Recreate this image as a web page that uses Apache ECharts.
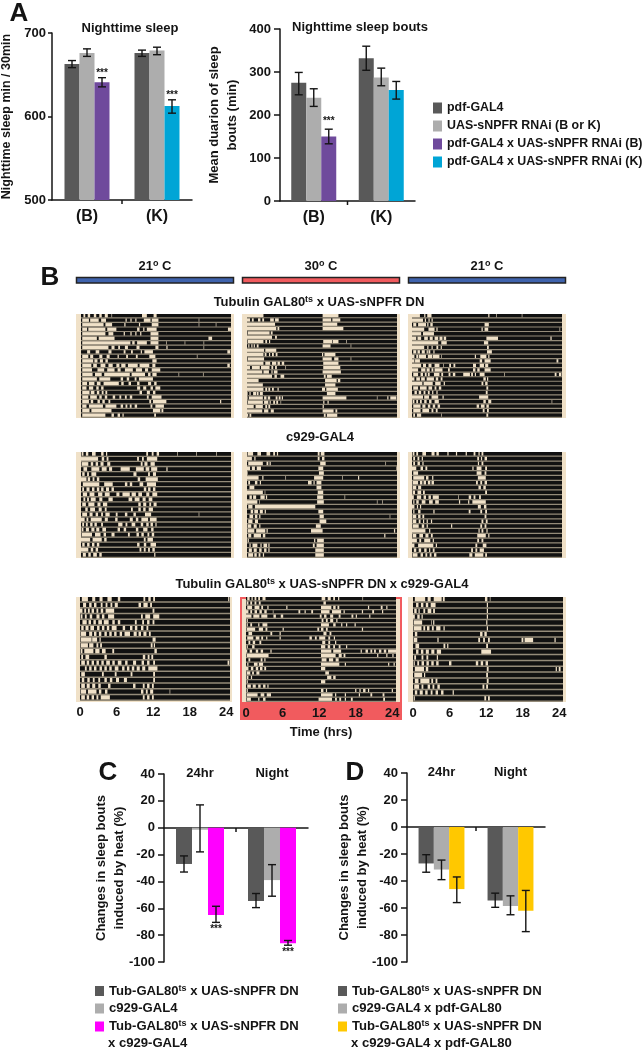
<!DOCTYPE html>
<html><head><meta charset="utf-8">
<style>html,body{margin:0;padding:0;background:#fff}#c{width:643px;height:1050px}</style>
<script src="https://cdn.jsdelivr.net/npm/echarts@6/dist/echarts.min.js"></script>
</head><body><div id="c"></div>
<script>
// ---------- Panel A data ----------
const groupsA = ['(B)','(K)'];
const namesA = ['pdf-GAL4','UAS-sNPFR RNAi (B or K)','pdf-GAL4 x UAS-sNPFR RNAi (B)','pdf-GAL4 x UAS-sNPFR RNAi (K)'];
const sleepDark = [663,676], sleepLight = [676,679], sleepPurple = [641,null], sleepBlue = [null,612.5];
const sleepErr = [[0,0,658.5,667],[0,1,672,681],[0,2,635.5,646.5],[1,0,672,679.5],[1,1,674,683],[1,2,604,620]];
const sleepSig = [[0,2,653],[1,2,627]];
const boutDark = [275,332], boutLight = [240,287], boutPurple = [150,null], boutBlue = [null,258];
const boutErr = [[0,0,247,299],[0,1,220,261],[0,2,133,167],[1,0,304,360],[1,1,268,309],[1,2,237,278]];
const boutSig = [[0,2,188]];
// ---------- Panels C, D data ----------
const groupsC = ['24hr','Night'];
const namesC = ['Tub-GAL80ts x UAS-sNPFR DN','c929-GAL4','Tub-GAL80ts x UAS-sNPFR DN x c929-GAL4'];
const namesD = ['Tub-GAL80ts x UAS-sNPFR DN','c929-GAL4 x pdf-GAL80','Tub-GAL80ts x UAS-sNPFR DN x c929-GAL4 x pdf-GAL80'];
const cDark = [-27,-54.5], cLight = [-1.5,-39], cMagenta = [-65,-86];
const cErr = [[0,0,-33,-21],[0,1,-18,17],[0,2,-70.5,-58.5],[1,0,-59.5,-49],[1,1,-51,-27.5],[1,2,-87.5,-84]];
const cSig = [[0,2,-75],[1,2,-92]];
const dDark = [-27,-54.5], dLight = [-31.5,-58.5], dYellow = [-46,-62];
const dErr = [[0,0,-33.5,-20.5],[0,1,-39,-24.5],[0,2,-56,-37],[1,0,-59.5,-49],[1,1,-65,-51],[1,2,-77.5,-47]];
// ---------- Panel B actograms: each row lists wake spans as start,end,start,end… in hours ----------
const hoursTicks = [0,6,12,18,24];
const tub21a = [
[.4,.7,1.1,1.5,2.1,2.5,3,3.4,3.9,4.4,5,5.1,10,10.8,11.9,12.4],
[.2,1.3,1.5,2.9,3.3,4.1,7.3,7.5,8.1,8.3,8.9,9.1,10.3,11.4,11.6,12.7,19.3,19.4],
[.2,3.7,4,5.1,7.1,7.3,9.5,9.7,11.6,12.7,19.3,19.4,22.1,22.2],
[.2,1,1.2,4,4.3,5.8,9.2,9.6,10.2,10.4,10.8,12.4,24.1,24.6],
[.2,4,4.5,5.3,7,7.2,8.1,8.3,8.9,9.1,9.7,9.9,11.4,12.7],
[.2,2.6,2.9,5.5,11.4,12.7,20.9,21.5],
[.2,8.1,8.4,8.8,9.2,10.8,11.4,12.7,14,14.1,17,17.1,20.1,20.2],
[.2,4.5,5,5.5,6.1,6.4,7.2,7.7,9.1,9.6,12.2,12.7,14,14.2,20.1,20.2],
[1,1.5,2.4,3,4.5,5,7,7.3,8.2,8.5,9.8,10,10.4,11.8,24,24.5],
[.2,1.2,1.5,2,3,3.5,4.2,4.7,6,6.2,7.4,7.7,9,9.3,11.2,12.2,19,19.1],
[.2,2,2.2,2.7,3.1,3.6,4,4.4,11.7,12.4],
[.2,1.7,2,2.6,3.2,4,4.5,5.2,5.8,6.3,6.6,7.3,7.7,9.3,9.6,11.2,11.7,12.2,24,24.4],
[.2,1.8,2.7,3.8,4.3,5.5,6,6.5,7.2,8.5,9,10,10.5,11,11.6,13],
[.2,1.9,2.3,3.4,3.8,8,8.3,10.5,11,11.4,11.7,12.4,16,16.1,20,20.1],
[.2,2.6,3,4.8,6.5,6.9,7.5,7.9,8.8,9.1,9.5,11.8],
[.2,1,1.3,2.2,2.6,3.2,3.7,6.2,6.6,7,7.8,8.2,9.2,9.6,11,11.5,12,12.4],
[.2,.9,1.3,2,2.5,2.9,3.3,3.7,9.2,9.7,10.2,10.7,11.4,11.8,12.2,13],
[.2,1.4,1.6,2.2,2.6,3,3.4,3.7,4,4.3,9.6,10,10.8,11.3,11.8,12.2],
[.2,1.2,1.5,2.6,3,3.4,3.9,4.3,5.2,5.6,6.3,6.6,7.2,7.5,8,8.4,10.8,11.1,11.6,13.2],
[.2,1.3,1.6,2,2.7,3.1,3.5,3.9,4.5,4.8,11.2,11.5,11.8,14,22.8,23],
[.2,.9,1.3,3.6,4,5.8,6.5,6.9,7.3,7.6,8,8.3,8.8,9.2,11.4,11.7,12.2,13.6],
[.2,1.4,1.7,5,11.8,13,13.2,13.5],
[.2,4,5,5.4,6,6.4,6.8,7,12,12.3]];
const tub30 = [
[0,2.7,12.4,15],
[0,.5,.8,1.1,1.8,2.2,2.5,2.8,3.8,4.4,4.6,5.2,12.4,13.8,14,15.3],
[0,4.6,12.4,14.8],
[0,4.8,5,5.3,12.4,15.8],
[.1,3.7,3.9,4.2],
[0,4.1,4.6,4.9],
[.1,2.7,3,3.3,3.6,3.8,12.5,14,14.1,15,16.3,16.4],
[.2,.4,.7,.9,1.1,1.3,1.6,1.9,12.4,13.7,17,17.1],
[0,2.8,3,4.8],
[0,2.7,2.9,3.2,3.6,3.8,4.1,4.4,4.7,5,12.3,12.5,12.7,14.5],
[.1,2.8,12.4,13.9,14.3,15,17,17.1],
[0,2.7,3,3.8,4.1,4.8,5,5.4,5.7,6.1,12.5,15],
[0,.5,.8,2.1,2.3,3.7,4,4.3,4.6,4.9,6.3,6.4,12.5,15.3],
[0,2.5,2.7,3.6,4,4.2,4.4,5,12.4,15.4],
[0,4.1,4.5,4.9,5.5,6.1,12.6,12.9,13.1,13.9],
[0,1.9,12.8,14.7,14.9,15.3],
[0,2.6,12.8,14.5],
[0,2.7,3,3.3,3.5,3.8,4.1,4.4,5,5.2,12.3,12.8,13,14.9],
[0,.1,.4,.6,1,1.5,1.6,1.9,2.1,2.6,13.1,14.5],
[0,.1,.3,2.6,2.8,3.2,3.4,3.8,4.7,5,5.2,5.5,5.7,5.9,12.4,16.3,21.3,21.4,23,23.2,23.5,24.5],
[.1,2.6,2.8,3.5,3.7,3.9,4.3,4.6,4.8,5.1,5.5,5.6,12.5,12.7,13.2,13.4],
[0,1.1,1.4,2.6,3,3.3,3.5,3.8,12.4,12.6],
[0,2.5,2.8,3.5,3.9,4.4,12.4,14.2,14.5,14.8],
[0,.2,.4,.7,12.6,12.9,13.1,14.8]];
const tub21b = [
[0,1.3,2,2.2,2.5,3.2,12.5,12.7,13.8,13.9,18,18.1],
[0,1.8,2.1,2.3,2.7,2.9,3.2,3.4],
[.2,.7,1,2.3,2.5,2.7,3,3.4,11.9,12.6],
[0,2,2.7,3.7,4,4.2,11.4,11.6,11.9,12.5,24.2,24.3],
[0,1.5,1.8,3.6],
[0,.7,.9,1.5,2,2.6,2.9,3.4,3.7,4.3,4.5,5,5.2,5.6,12.2,14.1,22.7,22.9],
[0,4.3,4.8,5.7,11.8,12.5],
[0,2,2.5,2.7,3.2,3.4,4,4.3,4.7,4.9,12.3,12.6],
[.2,.7,.9,1.3,1.6,2.1,2.4,2.6,2.7,3,3.5,3.7,12.3,13.1],
[0,.4,.7,1,1.1,2.3,2.6,3.3,3.4,4.5,4.8,4.9,10.3,10.5,11.2,12.2,12.5,12.7],
[0,.4,.5,1.3,11.1,11.5,11.9,12.9,23.7,24],
[0,1.5,1.8,2.3,2.7,3.2,3.7,4.5,5.1,5.2,6.1,6.4,6.8,7.1,10,10.5,11.1,11.8,12,12.5],
[0,1,1.5,2.2,2.4,2.9,3.2,3.5,3.7,5,5.9,6.2,10,10.4,10.7,11.1,11.9,12.9],
[.2,1,1.4,1.8,2.1,2.4,2.6,2.9,3.6,4.5,4.8,5.1,6,6.3,6.7,7.1,8.4,9.5,9.7,10,10.3,10.5,11.1,11.9,15.1,15.2,23.4,23.7,24.1,24.5],
[0,.4,.7,1.3,1.5,2.1,2.4,3.6,3.9,4.3,4.7,5,11.7,12.1,12.3,12.5],
[0,1.7,1.9,3.4,3.8,4.7,5.2,5.4,11.4,11.7,12,12.4],
[.2,1,1.3,2.4,2.7,3.3,3.7,4,4.4,4.8,12.2,12.5],
[.4,.8,1.1,1.5,1.9,2.2,2.6,2.9,3.3,3.5,4,4.2,12.1,12.4],
[0,1.8,2,2.8,3.2,4.3,5,5.2,11,12.5],
[.1,.4,.7,1,1.3,1.6,2,2.4,2.8,3.2,3.7,4.4,11.7,12.1,12.5,13,22.9,23],
[.2,1.4,1.7,2.2,2.6,3,3.4,3.8,4.2,4.6,10.6,11,11.3,11.9,12.2,12.6],
[.2,1.4,1.7,2.8,3.2,3.5,3.9,4.2,11.6,11.9,12.3,12.6],
[.2,.5,.8,1.5,4.8,4.9,12.2,12.5]];
const c929a = [
[.1,.4,.8,1.2,1.8,2.4,3.3,3.7,4.1,4.3,10.7,11,11.6,11.9,12.4,12.8,15.8,15.9,18.9,19,22.2,22.3],
[0,2.8,3.4,3.8,4.2,4.5,9.2,9.5,10,10.3,10.8,12.5],
[.1,1.2,1.6,2,2.4,2.8,3.2,3.7,4.3,4.8,9.8,10.1,10.4,10.9,11.4,12.1],
[.4,1,1.7,3,3.4,4.2,4.6,5.1,6.5,8,9,10.3,10.6,11.2,11.5,12.5,14,14.2],
[.2,.6,1,1.3,1.7,2.5,8.6,9.1,11,11.3,11.8,12.3],
[0,.9,1.1,1.5,1.9,2.2,2.6,3,9.3,9.7,10.6,12.6],
[.3,3,3.8,5.2,7.2,7.6,8,8.4,9.6,10.2,10.8,12.3],
[.2,.5,.9,1.4,1.8,2.2,2.6,3,3.3,3.7,4.1,4.6,5,5.4,10.3,10.7,11,11.4,11.8,12.2],
[.3,1,1.4,2.2,2.8,3.5,3.9,4.7,5.8,6.3,6.8,8,8.3,9,9.4,10,10.7,11.2,11.7,12.5],
[.4,.7,1,1.3,1.6,2.4,3,3.5,4.5,5.2,7.8,8.4,8.8,9.6,10.1,10.6,11.1,11.7],
[.2,.8,1.2,2.2,2.7,3.2,3.6,4.3,9.4,9.8,10.2,10.7,11.2,11.5,11.9,12.4],
[.7,1.1,1.5,2.3,2.9,3.4,3.9,4.2,8.2,8.5,9.4,9.8,10.2,10.6,11.1,11.8],
[.2,1,1.4,1.9,2.4,2.8,3.3,3.6,4,4.7,5.7,6,7.2,7.6,8.6,9,10.5,11.5,19.3,19.4],
[0,.6,.9,1.2,1.6,3.4,3.9,4.4,5.6,6,8,8.5,9,9.4,9.9,11,11.3,12.4],
[.2,.5,.8,1.1,1.5,1.9,2.2,2.6,3.3,3.6,6.1,6.8,7.3,7.6,8.3,8.9,9.8,10.2,10.7,11.1,11.4,11.8,12.2,12.4],
[.1,.4,.8,1.3,1.7,2.2,2.5,3,3.5,4.1,6,6.4,7,7.4,9,9.4,10.2,10.9,11.5,11.9],
[.1,1.8,2.3,3.2,3.7,4.1,5,5.5,7.7,8,9.1,9.5,9.9,10.3,10.9,11.2,11.6,12],
[0,1.5,1.9,3.4,3.8,4.2,10.3,10.6,10.9,11.8],
[.2,.6,1,1.4,1.8,2.2,2.6,3,9.2,9.6,10.3,10.7,11.4,12.3],
[0,1.2,1.6,2,2.4,2.8,9.6,9.9,10.3,10.6,11,11.3,11.7,12.1],
[.3,.8,1.2,1.6,2,2.6,3,3.4,12,12.2]];
const c929b = [
[.1,1,1.7,2.3,3.2,3.8,4.3,4.6,4.9,5.1,11.6,11.9,12.1,12.7],
[0,.8,1.2,1.4,11.6,11.9,12.3,12.7],
[.2,2.6,3.2,3.5,3.7,3.9,12,12.9,22.7,22.8],
[0,.5,.8,1.3,1.6,2.3,11.7,12.5,24.5,24.6],
[0,.1,11.8,12.6],
[0,1.9,2.5,2.7,6.3,6.4,11,12.5,15.6,15.7,18.2,18.4],
[.2,.5,1.3,1.7,2.1,2.3,10,10.6,10.9,11.1,11.4,12.2],
[.4,1.2,11.4,12.2],
[0,2.6,2.9,3,11.6,12.5],
[.4,.8,1,1.5,2.2,2.9,3.1,3.3,11.5,12.5,16,16.1],
[0,1.7,2,2.1,11.5,12.6,21.3,21.4,22.2,22.3],
[.2,.9,1.3,11.2,12.5],
[.6,1,1.2,1.8,2.1,2.6,2.9,3.1,11.7,12.5],
[.4,1,1.3,1.7,2,2.2,11.9,12.6,23.4,23.5],
[.2,.9,1.3,1.8,11.9,13],
[.1,.7,1.1,1.6,2,2.2,11.3,12.1],
[.1,1.2,1.5,3,3.2,3.4,10.5,12.4,24.1,24.3],
[.2,.7,1.1,2.3,2.6,3,22.5,22.7],
[.1,.3,11,11.2,11.5,12.6],
[.4,.6,.9,1.7,2.2,2.4,2.7,3.3,3.5,3.7,10.8,11.1,11.4,12.6],
[.3,.8,1.1,1.6,2,2.4,2.8,3.2,3.5,3.7,11.2,12.6],
[.2,1,1.2,1.6,1.9,2.2,2.6,2.8,11.2,12.6]];
const c929c = [
[.1,.4,.7,1,1.7,2.3,3.2,3.7,4,4.4,5.8,6,7.2,7.4,8.8,9,10.1,10.4,10.9,11.1,11.4,11.7],
[.2,.5,.9,1.2,1.6,1.8,10.7,11,11.3,11.5,11.9,12.3],
[.2,.5,.9,1.3,1.7,1.9,10.8,11,11.4,11.7],
[0,.7,1.4,1.8,2.2,2.5,9.9,10.1,10.6,11.4,12,12.3],
[.2,1,10.6,11.4,11.9,12.2],
[.2,2,2.3,2.7,3.3,3.5,10.8,12.1],
[.1,1,1.3,1.7,1.9,2.3,2.6,3,3.2,3.6,10.5,10.8,11.2,11.5,11.9,12.3],
[.1,.7,1,1.5,10.9,11.3,11.7,12.1],
[.1,.5,.9,1.5,1.8,2.1,12,12.3],
[0,.3,.8,1.5,1.9,2.3,2.7,3.1,3.4,4.4,7.6,7.7,9.3,9.7,10.1,10.4,11,11.3],
[.2,.4,.7,1.1,1.6,2.2,2.8,3.4,3.8,4.4,7.7,7.9,9.2,9.4,9.9,12.1],
[0,.4,.8,1,1.3,1.5,10.8,11.3,11.8,12.2],
[.2,.4,1,1.4,3.5,3.7,9.3,9.6,11.2,11.5,12,12.3],
[.1,.7,1,1.4,1.7,2,11.9,12.2],
[.1,.7,1.1,1.4,1.8,2,2.4,2.6,3.1,3.3,11.4,11.7,12.1,12.4],
[.1,1.1,1.6,2,2.4,2.6,6.4,6.6,11.2,11.5,11.9,12.2],
[0,2.2,2.8,3,10.9,11.1,11.4,11.7,12.2,12.4],
[.1,.7,1.2,1.8,2.2,2.7,3.1,3.4,10.7,12.1,12.5,12.7],
[0,.8,1.2,1.5,2,3,3.4,3.6,10.7,11,11.4,11.7],
[0,.4,1,3.5,3.9,4.1,10.4,10.7,11.6,12.2],
[.3,.7,1.1,1.5,2,2.4,2.8,3,3.4,3.7,9.7,10,10.4,10.7,11.1,11.8],
[.1,.9,1.4,1.8,2.2,2.5,2.9,3.2,3.6,4,9.4,9.9,10.3,11.7,12,12.3]];
const triple21a = [
[.3,1.3,2,2.5,3.2,3.7,4.5,5.2,6.2,6.6,10.4,10.7,11.2,11.6,12,12.3,24.3,24.5],
[.5,1,1.5,1.9,2.3,2.7,3.4,3.7,4.2,4.5,5,5.3,5.7,6.2,9.6,10,10.4,11.1,11.5,11.8],
[0,.4,.7,1,1.3,1.6,1.9,2.3,2.7,3,3.4,3.8,4.2,5.6,11.9,12.2],
[.1,.4,.8,1.1,1.6,2,2.7,3.2,3.6,4,4.6,5.6,10,10.3,10.7,11.5,12,13],
[.4,1.1,1.4,1.8,2.2,2.6,3,3.6,3.9,4.7,5.3,5.7,6.2,6.6,9,9.3,10.2,10.5,11,11.4,11.9,12.2],
[.2,.6,.9,1.4,1.7,2.3,2.8,3.2,3.6,4,4.4,4.8,5.2,6,7,7.4,8.2,8.6,9,9.4,10,10.4,10.9,11.2],
[.1,1,1.5,2,2.3,2.7,3.1,3.5,4,4.4,4.8,5.2,5.6,6,6.5,6.9,7.3,8.2,8.8,9.3,9.6,10,10.4,10.9,11.3,11.6],
[.1,1.9,2,2.8,3.2,3.4,11.9,12.4],
[.1,1.3,1.5,2.2,2.7,3,3.3,3.6,11.6,11.9,12.1,12.3],
[.1,.4,.7,2.2,2.5,3.2,3.6,4.2,5.3,5.6,12.2,12.6],
[.2,.5,.9,1.5,4,4.4,10.3,10.7,11.1,11.4,11.7,12],
[.2,.8,1.1,1.5,1.9,2.3,2.7,3.1,3.5,3.9,4.3,4.9,5.3,5.7,6.2,6.8,7.4,7.8,8.7,9.2,10.1,10.5,11,11.4,12,12.3,24.2,24.5],
[.8,1.1,1.5,1.9,2.3,2.7,3.2,3.6,4,4.4,4.8,5.2,5.7,6.3,6.9,7.3,7.7,8.1,8.5,8.9,9.3,9.8,10.2,10.7,11.2,12.7],
[.2,.8,3.6,3.9,5.7,6,8.3,8.6,12,12.3],
[.3,.7,1.2,1.6,2.1,2.4,3,3.3,4,4.4,4.9,5.3,5.9,6.4,7.2,7.7,12,12.3],
[.2,.8,1.1,1.6,2,2.5,3,3.4,4.6,5,8.7,9.1,10.3,10.6,11,11.4,11.8,12.1],
[.1,1,1.3,2.7,3.1,3.5,4.1,4.5,10,10.4,10.8,11.1,11.5,12,14.7,14.8],
[.2,.8,1.1,1.5,1.9,2.3,2.7,3,3.4,4.9,10.3,10.6,11,11.4,11.8,12.1]];
const triple30 = [
[.2,.6,.9,1.1,1.4,1.7,2,2.3,2.7,3.2,12.4,13,13.4,13.9,14.3,14.6,15.1,15.3,19.1,19.2],
[.1,.4,.7,1,1.4,1.7,2.1,2.4,12.7,13.1],
[.2,1,1.4,2.2,2.5,2.8,3.5,3.7,6.6,6.8,12.3,14,14.3,14.7,15,15.3,20,20.2,22.1,22.4,23,23.2],
[0,.4,.7,1,1.4,1.8,2.2,2.6,3,3.4,4.4,4.5,8.6,8.9,9.6,9.8,10.7,11,12.3,13.7,14.1,15.6,16,16.2,19,19.2,20.7,21,22.3,22.5],
[0,.9,1.2,2.2,2.5,3.5,4.5,4.9,5.7,6.1,12.1,12.4,12.8,13.2,13.8,14.3,15.2,15.5,17.3,17.6,18,18.2,20.2,20.4],
[.1,.3,12.4,12.7,13.1,13.4,13.8,14.3,14.8,15],
[.1,.3,.7,1,2,2.2,2.7,3.5,12.3,13.6,14.3,14.7,15.6,15.8,16.4,16.6,17.8,18],
[.1,1.5,2.1,2.8,3.2,3.5,6,6.2,11.7,12,12.3,12.7,13.1,13.4,19,19.2],
[.4,1,4,4.3,5.5,5.7,12.7,13.2,13.7,14],
[.2,1.2,1.6,2.2,2.5,2.8,3.3,3.5,5.5,5.7,10.4,10.8,11.3,11.6,12,13,13.5,13.8,14.4,14.6],
[.4,.7,1.1,1.5,2.2,2.5,12.5,13,13.5,13.8,14.6,14.8],
[.1,.3,1,1.4,12.3,13,13.4,13.8,14.3,14.6,15.2,15.5,16.4,16.6],
[0,.2,.6,1,1.6,2,2.4,2.8,4,4.2,12.3,14,14.3,15.6,18.8,19,19.6,20,20.4,20.7,21,21.3,21.8,22.2,22.6,23,23.3,24.6],
[.1,3.7,12.3,14.7,15.2,15.7,16,16.3,21.5,21.7,23,23.2,24,24.2],
[.4,.7,2.4,2.7,3,3.2,12.4,13.2,13.6,14.3,14.7,15.2],
[.2,.4,1.3,1.9,2.1,2.8,12.3,15.3,16.2,16.4,23.3,23.5,24.2,24.4],
[0,.4,.8,1.2,1.6,2,2.3,2.7,3,3.3,12.3,13],
[.1,.7,1,1.3,1.7,2.2,13,13.6],
[.1,.4,.8,1,13.3,14,14.3,14.7],
[.1,.3,12.3,13],
[.2,.8,1.1,1.6,2,2.4,2.8,3.2,3.5,3.7],
[.1,.3,12.3,12.7,13.1,13.3,17.9,18.1,18.6,18.8,19.2,19.6,20,20.2,23.9,24.1],
[.1,1.9,2.4,3,3.4,4.1,12.3,14.2,14.6,14.8,16.2,16.4,18.5,18.7,20.4,20.7,22.4,22.7],
[.1,.8,2,2.2,2.8,3.2,11.9,14.1,14.6,14.9,15.3,15.6,16.2,16.4,17.2,17.5,22.5,22.8]];
const triple21b = [
[.3,2,2.4,2.9,3.4,4.7,4.9,5.2,11.8,12.2,12.6,12.7],
[.5,.9,1.3,1.7,2.1,2.5,2.9,3.7,12.1,12.3],
[.2,.6,.9,1.1,1.7,2,2.4,3,3.3,3.6,12.1,12.3],
[0,.3,.7,1.1,1.4,1.6,12.1,12.3],
[.1,1.5,3,3.1,3.3,3.5,12,12.2],
[.1,1.4,1.7,2,2.3,2.7,3.1,3.4,3.8,4.5,5,5.2,12.1,12.3],
[.3,.7,11,11.4,11.7,12.1],
[.1,.7,4,4.2,10.7,11,11.5,11.8,12.3,12.6,17.8,18.1,18.3,19.7,23.2,23.4],
[.4,1,5,5.3,5.6,5.8,12,12.3],
[.5,.9,1.3,1.7,2.1,2.6,3,3.5,3.9,4.6,11.2,12.8],
[.2,.5,1.4,1.7,2.2,2.5,3.9,4.1],
[.1,.3,.7,1,1.4,1.8,2.2,2.6,3,3.4,3.8,4.2,5.9,6.3,10.3,10.7,11.1,11.5,11.9,12.3],
[.3,1.8,2.1,2.5,12.1,12.4,23.4,23.6,23.9,24.2],
[.2,1.5,1.8,2,12,12.3],
[.3,.9,1.2,2.7,3,3.3,3.7,4,12.1,12.4],
[.2,1,1.4,1.7,2.4,2.8,3.2,3.5,4,4.4,11.4,11.7,12,12.3],
[.3,.7,1.1,1.6,2,2.4,2.9,3.2,3.7,4.1,4.6,5,6.5,6.7],
[.1,.3,11.7,12,12.3,12.6]];
const rowSets = [tub21a,tub30,tub21b,c929a,c929b,c929c,triple21a,triple30,triple21b];
// ---------- Styling ----------
const F='"Liberation Sans",Arial,sans-serif', INK='#141414';
const COL={dark:'#595959',light:'#adadad',purple:'#6f4a9c',blue:'#00a5d6',magenta:'#ff00ff',yellow:'#ffc800'};
const TAN='#f0e1c8', SEP='#948b79', BLACK='#111', RED='#f15b5e';
const SPAN=24.6;
const richL={b:{fontFamily:F,fontWeight:'bold',fontSize:13.1,color:INK},s:{fontFamily:F,fontWeight:'bold',fontSize:9,color:INK,verticalAlign:'top',padding:[0,0,5,0]}};
const fmtName=n=>{let t=n.startsWith('Tub')?n.replace(/ x c929-GAL4( x pdf-GAL80)?$/,''):n;
  return t.includes('GAL80ts')?t.replace('GAL80ts','GAL80@').split('@').map((p,i)=>'{b|'+p+'}'+(i==0?'{s|ts}':'')).join(''):'{b|'+t+'}';};

const grid=[],xAxis=[],yAxis=[],series=[];
function errSeries(g,data,bw){series.push({type:'custom',xAxisIndex:g.x,yAxisIndex:g.y,z:4,silent:true,data,encode:{x:0,y:[2,3]},
  renderItem(p,api){const cx=api.coord([api.value(0),0])[0]+(api.value(1)-1)*bw;
    const lo=api.coord([api.value(0),api.value(2)])[1],hi=api.coord([api.value(0),api.value(3)])[1],c=4;
    const st={stroke:INK,lineWidth:1.4,fill:null};
    return {type:'group',children:[[cx,hi,cx,lo],[cx-c,hi,cx+c,hi],[cx-c,lo,cx+c,lo]].map(s=>({type:'line',shape:{x1:s[0],y1:s[1],x2:s[2],y2:s[3]},style:st}))};}});}
function sigSeries(g,data,bw){series.push({type:'custom',xAxisIndex:g.x,yAxisIndex:g.y,z:4,silent:true,data,encode:{x:0,y:2},
  renderItem(p,api){const cx=api.coord([api.value(0),0])[0]+(api.value(1)-1)*bw,y=api.coord([api.value(0),api.value(2)])[1];
    return {type:'text',style:{text:'***',x:cx,y:y+1,align:'center',verticalAlign:'middle',font:'bold 10px '+F,fill:INK}};}});}
function barChart(o){
  const i=grid.length;grid.push({left:o.l,top:o.t,width:o.w,height:o.h,outerBoundsMode:'none'});
  const x=xAxis.length,y=yAxis.length;
  xAxis.push({gridIndex:i,type:'category',data:o.cats,axisTick:{show:false},axisLine:{lineStyle:{color:INK,width:1.5},onZero:true},
    axisLabel:o.bottomLabels?{fontFamily:F,fontWeight:'bold',fontSize:16,color:INK,margin:9}:{show:false}});
  yAxis.push({gridIndex:i,type:'value',min:o.min,max:o.max,interval:o.int,splitLine:{show:false},
    axisLine:{show:true,lineStyle:{color:INK,width:1.5}},axisTick:{show:true,length:o.tl,lineStyle:{color:INK,width:1.5}},
    axisLabel:{fontFamily:F,fontWeight:'bold',fontSize:13,color:INK,margin:o.lm},
    name:o.yName,nameLocation:'middle',nameGap:o.nameGap,nameRotate:90,nameMoveOverlap:false,nameTextStyle:{fontFamily:F,fontWeight:'bold',fontSize:o.nfs,color:INK,lineHeight:17.5}});
  if(!o.bottomLabels){xAxis.push({gridIndex:i,type:'category',position:'top',data:o.cats,axisLine:{show:false,onZero:false},axisTick:{show:false},
    axisLabel:{fontFamily:F,fontWeight:'bold',fontSize:13,color:INK,margin:-6}});}
  o.bars.forEach(b=>series.push({name:b.name,type:'bar',xAxisIndex:x,yAxisIndex:y,data:b.data,stack:b.stack,barWidth:o.bw,barGap:0,itemStyle:{color:b.color},silent:true,z:2}));
  errSeries({x,y},o.err,o.bw); if(o.sig)sigSeries({x,y},o.sig,o.bw);
}
barChart({l:52,t:33,w:140,h:167,cats:groupsA,bottomLabels:true,min:500,max:700,int:100,bw:15,yName:'Nighttime sleep min / 30min',nameGap:37,nfs:12.5,tl:4,lm:6,
  bars:[{name:namesA[0],data:sleepDark,color:COL.dark},{name:namesA[1],data:sleepLight,color:COL.light},{name:namesA[2],data:sleepPurple,color:COL.purple,stack:'sleepThird'},{name:namesA[3],data:sleepBlue,color:COL.blue,stack:'sleepThird'}],err:sleepErr,sig:sleepSig});
barChart({l:280,t:29,w:135,h:172,cats:groupsA,bottomLabels:true,min:0,max:400,int:100,bw:15,yName:'Mean duarion of sleep\nbouts (min)',nameGap:39,nfs:13,tl:6,lm:9,
  bars:[{name:namesA[0],data:boutDark,color:COL.dark},{name:namesA[1],data:boutLight,color:COL.light},{name:namesA[2],data:boutPurple,color:COL.purple,stack:'boutThird'},{name:namesA[3],data:boutBlue,color:COL.blue,stack:'boutThird'}],err:boutErr,sig:boutSig});
barChart({l:164,t:774,w:144,h:188,cats:groupsC,min:-100,max:40,int:20,bw:16,yName:'Changes in sleep bouts\ninduced by heat (%)',nameGap:36,nfs:13,tl:6,lm:9,
  bars:[{name:namesC[0],data:cDark,color:COL.dark},{name:namesC[1],data:cLight,color:COL.light},{name:namesC[2],data:cMagenta,color:COL.magenta}],err:cErr,sig:cSig});
barChart({l:407,t:773,w:138,h:189,cats:groupsC,min:-100,max:40,int:20,bw:15.3,yName:'Changes in sleep bouts\ninduced by heat (%)',nameGap:36,nfs:13,tl:6,lm:9,
  bars:[{name:namesD[0],data:dDark,color:COL.dark},{name:namesD[1],data:dLight,color:COL.light},{name:namesD[2],data:dYellow,color:COL.yellow}],err:dErr});

// Actograms
const acto=[[81,314,104],[247,314,104],[412,314,104],[81,452,106],[247,452,106],[412,452,106],[80,597,104],[246,597,105],[413,597,105]];
rowSets.forEach((rows,k)=>{
  const [l,t,h]=acto[k],i=grid.length,labelled=k>=6;
  grid.push({left:l,top:t,width:150,height:h,show:true,backgroundColor:SEP,borderWidth:0,outerBoundsMode:'none'});
  const x=xAxis.length,y=yAxis.length;
  xAxis.push({gridIndex:i,type:'value',min:0,max:SPAN,splitLine:{show:false},axisLine:{show:false},axisTick:{show:false},
    axisLabel:labelled?{customValues:hoursTicks,fontFamily:F,fontWeight:'bold',fontSize:13,color:INK,margin:5,formatter:v=>String(v)}:{show:false}});
  yAxis.push({gridIndex:i,type:'value',min:0,max:rows.length,inverse:true,show:false,splitLine:{show:false}});
  const data=[];
  rows.forEach((r,ri)=>{data.push([ri,0,SPAN,0]);for(let j=0;j<r.length;j+=2)data.push([ri,r[j],r[j+1],1]);});
  series.push({type:'custom',xAxisIndex:x,yAxisIndex:y,silent:true,data,encode:{x:[1,2],y:0},z:3,
    renderItem(p,api){const a=api.coord([api.value(1),api.value(0)]),b=api.coord([api.value(2),api.value(0)]),bh=api.size([0,1])[1];
      return {type:'rect',shape:{x:a[0],y:a[1],width:b[0]-a[0],height:bh*0.74},style:{fill:api.value(3)?TAN:BLACK}};}});
});

// Static decorations
const T=(text,x,y,size,align)=>({type:'text',z:5,style:{text,x,y,font:'bold '+size+'px '+F,fill:INK,align:align||'center',verticalAlign:'middle'}});
const R=(text,x,y,size)=>({type:'text',z:5,style:{text,x,y,align:'center',verticalAlign:'middle',fill:INK,font:'bold '+size+'px '+F,rich:{b:{font:'bold '+size+'px '+F,fill:INK},s:{font:'bold 9px '+F,fill:INK,verticalAlign:'top',padding:[0,0,5,0]}}}});
const box=(x,y,w,h,fill,stroke)=>({type:'rect',z:-1,shape:{x,y,width:w,height:h},style:{fill,stroke:stroke||null,lineWidth:stroke?1.5:0}});
const tick=(x,y)=>({type:'line',z:5,shape:{x1:x,y1:y,x2:x,y2:y+4},style:{stroke:INK,lineWidth:1.5}});
const graphic=[
  box(240,597,162,123,RED),
  box(76,314,158,104,TAN),box(242,314,158,104,TAN),box(408,314,158,104,TAN),
  box(76,452,158,106,TAN),box(242,452,158,106,TAN),box(408,452,158,106,TAN),
  box(76,597,156,105,TAN),box(242,599,158,103,TAN),box(408,597,158,105,TAN),
  box(76.5,277.5,157,5.5,'#3f63ad','#222'),box(242.5,277.5,157,5.5,RED,'#222'),box(408.5,277.5,157,5.5,'#3f63ad','#222'),
  T('A',19,14,26),T('B',50,278,26),T('C',108,773,26),T('D',355,773,26),
  T('Nighttime sleep',130,28,13),T('Nighttime sleep bouts',360,27,13),
  R('{b|21}{s|o}{b| C}',155,266,13),R('{b|30}{s|o}{b| C}',321,266,13),R('{b|21}{s|o}{b| C}',487,266,13),
  R('{b|Tubulin GAL80}{s|ts}{b| x UAS-sNPFR DN}',319,302,13),
  T('c929-GAL4',320,437,13),
  R('{b|Tubulin GAL80}{s|ts}{b| x UAS-sNPFR DN x c929-GAL4}',322,584,13),
  T('Time (hrs)',321,732,13),
  T('x c929-GAL4',108,1043,13.1,'left'),T('x c929-GAL4 x pdf-GAL80',351,1043,13.1,'left'),
  tick(122,200),tick(347.5,201),tick(236,828),tick(476,827)
];
const legendBase={orient:'vertical',padding:0,itemWidth:9,itemHeight:10,icon:'rect',selectedMode:false,formatter:fmtName,textStyle:{rich:richL,fontFamily:F,fontWeight:'bold',fontSize:13.1,color:INK}};
const legend=[
  Object.assign({},legendBase,{left:433,top:102,data:namesA,itemGap:6,itemWidth:9,itemHeight:11,formatter:n=>n,textStyle:{fontFamily:F,fontWeight:'bold',fontSize:12.4,color:INK}}),
  Object.assign({},legendBase,{left:95,top:984,data:namesC,itemGap:4.5}),
  Object.assign({},legendBase,{left:338,top:984,data:namesD,itemGap:4.5})
];
const chart=echarts.init(document.getElementById('c'),null,{renderer:'canvas'});
chart.setOption({animation:false,backgroundColor:'#fff',tooltip:{show:false},grid,xAxis,yAxis,series,legend,graphic});
</script></body></html>
